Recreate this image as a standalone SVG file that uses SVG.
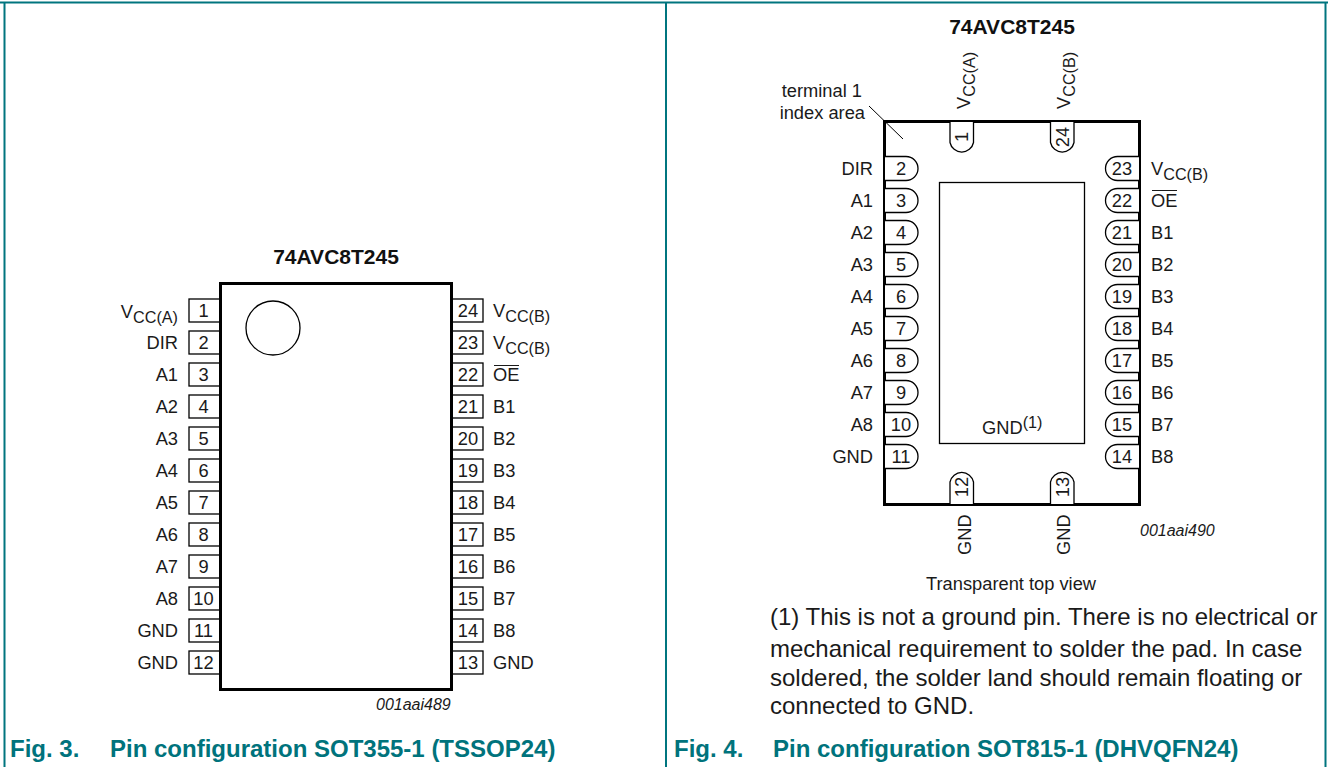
<svg xmlns="http://www.w3.org/2000/svg" width="1328" height="767" viewBox="0 0 1328 767">
<style>
text{font-family:"Liberation Sans",Arial,sans-serif;font-size:18.3px;fill:#1a1a1a}
tspan.u{font-size:16.2px}
.e{text-anchor:end}.m{text-anchor:middle}
.t{font-weight:bold;font-size:21px;text-anchor:middle;fill:#111}
.i{font-style:italic;font-size:16px}
.c{font-weight:bold;font-size:24px;fill:#00737c}
.n{font-size:24px}
.ic{fill:#fff;stroke:#000;stroke-width:3}
.p{fill:#fff;stroke:#000;stroke-width:1.3}
.f{fill:none;stroke:#00757f;stroke-width:2}
</style>
<rect width="1328" height="767" fill="#fff"/>
<g id="frame"><path class="f" d="M0 2.5H1328M4.500 2.500V767M666 2.500V767M1325.500 2.500V767"/></g>
<g id="connectors"></g>
<g id="fig3">
<text class="t" x="336" y="264">74AVC8T245</text>
<g id="u1-pins" class="pins">
<rect class="p" x="189" y="299" width="31" height="23"/><rect class="p" x="189" y="331" width="31" height="23"/><rect class="p" x="189" y="363" width="31" height="23"/><rect class="p" x="189" y="395" width="31" height="23"/><rect class="p" x="189" y="427" width="31" height="23"/><rect class="p" x="189" y="459" width="31" height="23"/><rect class="p" x="189" y="491" width="31" height="23"/><rect class="p" x="189" y="523" width="31" height="23"/><rect class="p" x="189" y="555" width="31" height="23"/><rect class="p" x="189" y="587" width="31" height="23"/><rect class="p" x="189" y="619" width="31" height="23"/><rect class="p" x="189" y="651" width="31" height="23"/>
<rect class="p" x="451" y="299" width="32" height="23"/><rect class="p" x="451" y="331" width="32" height="23"/><rect class="p" x="451" y="363" width="32" height="23"/><rect class="p" x="451" y="395" width="32" height="23"/><rect class="p" x="451" y="427" width="32" height="23"/><rect class="p" x="451" y="459" width="32" height="23"/><rect class="p" x="451" y="491" width="32" height="23"/><rect class="p" x="451" y="523" width="32" height="23"/><rect class="p" x="451" y="555" width="32" height="23"/><rect class="p" x="451" y="587" width="32" height="23"/><rect class="p" x="451" y="619" width="32" height="23"/><rect class="p" x="451" y="651" width="32" height="23"/>
</g>
<rect id="u1-body" class="ic" x="220.500" y="283.500" width="231" height="406"/>
<circle id="u1-mark" cx="273" cy="328" r="27" fill="none" stroke="#000" stroke-width="1.300"/>
<g id="u1-num" class="m">
<text x="203.500" y="317">1</text><text x="203.500" y="349">2</text><text x="203.500" y="381">3</text><text x="203.500" y="413">4</text><text x="203.500" y="445">5</text><text x="203.500" y="477">6</text><text x="203.500" y="509">7</text><text x="203.500" y="541">8</text><text x="203.500" y="573">9</text><text x="203.500" y="605">10</text><text x="203.500" y="637">11</text><text x="203.500" y="669">12</text>
<text x="468" y="317">24</text><text x="468" y="349">23</text><text x="468" y="381">22</text><text x="468" y="413">21</text><text x="468" y="445">20</text><text x="468" y="477">19</text><text x="468" y="509">18</text><text x="468" y="541">17</text><text x="468" y="573">16</text><text x="468" y="605">15</text><text x="468" y="637">14</text><text x="468" y="669">13</text>
</g>
<g id="u1-left" class="e">
<text x="178" y="318">V<tspan class="u" dy="5">CC(A)</tspan></text><text x="178" y="349">DIR</text><text x="178" y="381">A1</text><text x="178" y="413">A2</text><text x="178" y="445">A3</text><text x="178" y="477">A4</text><text x="178" y="509">A5</text><text x="178" y="541">A6</text><text x="178" y="573">A7</text><text x="178" y="605">A8</text><text x="178" y="637">GND</text><text x="178" y="669">GND</text>
</g>
<g id="u1-right">
<text x="493" y="317">V<tspan class="u" dy="5">CC(B)</tspan></text><text x="493" y="349">V<tspan class="u" dy="5">CC(B)</tspan></text><text x="493" y="381">OE</text><text x="493" y="413">B1</text><text x="493" y="445">B2</text><text x="493" y="477">B3</text><text x="493" y="509">B4</text><text x="493" y="541">B5</text><text x="493" y="573">B6</text><text x="493" y="605">B7</text><text x="493" y="637">B8</text><text x="493" y="669">GND</text>
<path d="M494 365.500H519" stroke="#1a1a1a" stroke-width="1"/>
</g>
<text class="i" x="376" y="710">001aai489</text>
<text class="c" x="10" y="757">Fig. 3.</text><text class="c" x="110" y="757">Pin configuration SOT355-1 (TSSOP24)</text>
</g>
<g id="fig4">
<text class="t" x="1012" y="34">74AVC8T245</text>
<g id="u2-body"><rect class="ic" x="884.500" y="121.500" width="255" height="383"/></g>
<rect id="u2-pad" x="939.500" y="182.500" width="145" height="261" fill="none" stroke="#000" stroke-width="1.300"/>
<path id="u2-index" d="M869 106L903 139" stroke="#000" stroke-width="1"/>
<g id="u2-pins" fill="#fff" stroke="#000" stroke-width="1.300">
<path d="M885 156.500H906a12 12 0 0 1 0 24H885"/><path d="M885 188.500H906a12 12 0 0 1 0 24H885"/><path d="M885 220.500H906a12 12 0 0 1 0 24H885"/><path d="M885 252.500H906a12 12 0 0 1 0 24H885"/><path d="M885 284.500H906a12 12 0 0 1 0 24H885"/><path d="M885 316.500H906a12 12 0 0 1 0 24H885"/><path d="M885 348.500H906a12 12 0 0 1 0 24H885"/><path d="M885 380.500H906a12 12 0 0 1 0 24H885"/><path d="M885 412.500H906a12 12 0 0 1 0 24H885"/><path d="M885 444.500H906a12 12 0 0 1 0 24H885"/>
<path d="M1139 156.500H1117.500a12 12 0 0 0 0 24H1139"/><path d="M1139 188.500H1117.500a12 12 0 0 0 0 24H1139"/><path d="M1139 220.500H1117.500a12 12 0 0 0 0 24H1139"/><path d="M1139 252.500H1117.500a12 12 0 0 0 0 24H1139"/><path d="M1139 284.500H1117.500a12 12 0 0 0 0 24H1139"/><path d="M1139 316.500H1117.500a12 12 0 0 0 0 24H1139"/><path d="M1139 348.500H1117.500a12 12 0 0 0 0 24H1139"/><path d="M1139 380.500H1117.500a12 12 0 0 0 0 24H1139"/><path d="M1139 412.500H1117.500a12 12 0 0 0 0 24H1139"/><path d="M1139 444.500H1117.500a12 12 0 0 0 0 24H1139"/>
<path d="M950 122V142.500a12 12 0 0 0 23.500 0V122"/><path d="M1050.500 122V142.500a12 12 0 0 0 23.500 0V122"/>
<path d="M950 504V482a12 12 0 0 1 23.500 0V504"/><path d="M1050.500 504V482a12 12 0 0 1 23.500 0V504"/>
</g>
<g id="u2-num" class="m">
<text x="901" y="175">2</text><text x="901" y="207">3</text><text x="901" y="239">4</text><text x="901" y="271">5</text><text x="901" y="303">6</text><text x="901" y="335">7</text><text x="901" y="367">8</text><text x="901" y="399">9</text><text x="901" y="431">10</text><text x="901" y="463">11</text>
<text x="1122" y="175">23</text><text x="1122" y="207">22</text><text x="1122" y="239">21</text><text x="1122" y="271">20</text><text x="1122" y="303">19</text><text x="1122" y="335">18</text><text x="1122" y="367">17</text><text x="1122" y="399">16</text><text x="1122" y="431">15</text><text x="1122" y="463">14</text>
<text transform="translate(968 137) rotate(-90)">1</text><text transform="translate(1069 137) rotate(-90)">24</text>
<text transform="translate(968 487) rotate(-90)">12</text><text transform="translate(1069 487) rotate(-90)">13</text>
</g>
<g id="u2-left" class="e">
<text x="873" y="175">DIR</text><text x="873" y="207">A1</text><text x="873" y="239">A2</text><text x="873" y="271">A3</text><text x="873" y="303">A4</text><text x="873" y="335">A5</text><text x="873" y="367">A6</text><text x="873" y="399">A7</text><text x="873" y="431">A8</text><text x="873" y="463">GND</text>
<text x="862" y="97">terminal 1</text><text x="865" y="119">index area</text>
</g>
<g id="u2-right">
<text x="1151" y="175">V<tspan class="u" dy="5">CC(B)</tspan></text><text x="1151" y="207">OE</text><text x="1151" y="239">B1</text><text x="1151" y="271">B2</text><text x="1151" y="303">B3</text><text x="1151" y="335">B4</text><text x="1151" y="367">B5</text><text x="1151" y="399">B6</text><text x="1151" y="431">B7</text><text x="1151" y="463">B8</text>
<path d="M1152 190.500H1177" stroke="#1a1a1a" stroke-width="1"/>
</g>
<g id="u2-top">
<text transform="translate(970 109) rotate(-90)">V<tspan class="u" dy="5">CC(A)</tspan></text>
<text transform="translate(1070 109) rotate(-90)">V<tspan class="u" dy="5">CC(B)</tspan></text>
<text transform="translate(971 555) rotate(-90)">GND</text>
<text transform="translate(1070 555) rotate(-90)">GND</text>
</g>
<text x="982" y="434">GND<tspan dy="-6" font-size="16.200">(1)</tspan></text>
<text class="i" x="1140" y="536">001aai490</text>
<text x="926" y="590">Transparent top view</text>
<g id="note">
<text class="n" x="770" y="625">(1) This is not a ground pin. There is no electrical or</text>
<text class="n" x="770" y="657">mechanical requirement to solder the pad. In case</text>
<text class="n" x="770" y="686">soldered, the solder land should remain floating or</text>
<text class="n" x="770" y="714">connected to GND.</text>
</g>
<text class="c" x="674" y="757">Fig. 4.</text><text class="c" x="773" y="757">Pin configuration SOT815-1 (DHVQFN24)</text>
</g>
</svg>
